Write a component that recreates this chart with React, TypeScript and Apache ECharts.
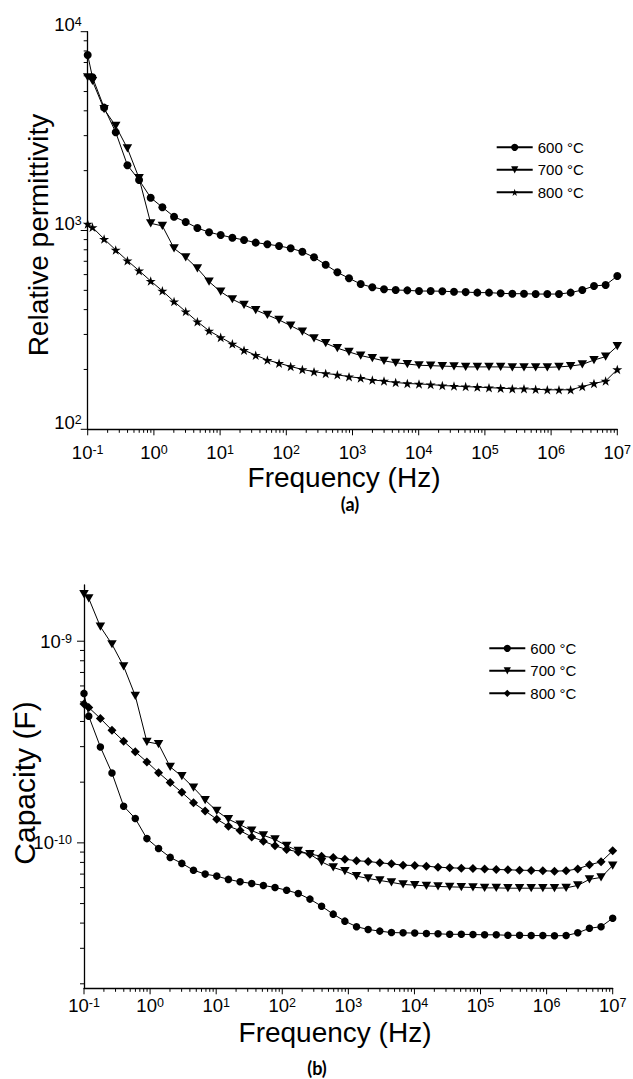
import React, { useEffect, useRef } from 'react';
import * as echarts from 'echarts';

// Frequencies (Hz), shared by both panels
const freq = [0.1, 0.118, 0.177, 0.265, 0.398, 0.597, 0.895, 1.343, 2.016, 3.024, 4.537, 6.81, 10.21, 15.32, 22.99, 34.5, 51.8, 77.7, 116.5, 174.8, 262.3, 393.6, 590.5, 886, 1329, 1994, 2992, 4489, 6735, 10106, 15163, 22751, 34136, 51217, 76848, 115305, 173000, 259600, 389500, 584400, 876800, 1315000, 1973000, 2961000, 4443000, 6665000, 10000000];

const seriesNames = ['600 °C', '700 °C', '800 °C'];

// (a) Relative permittivity
const perm600 = [7640, 5900, 4150, 3120, 2130, 1795, 1462, 1309, 1173, 1104, 1030, 980, 949, 920, 896, 869, 853, 836, 814, 782, 733, 673, 616, 575, 538, 518, 506, 502, 500, 496, 496, 495, 492, 490, 487, 487, 483, 481, 481, 479, 479, 479, 487, 502, 526, 532, 590];
const perm700 = [5900, 5650, 4074, 3357, 2588, 1833, 1087, 1054, 813, 733, 645, 553, 492, 451, 422, 398, 376, 355, 332, 310, 287, 271, 256, 245, 235, 228, 221, 216, 213, 210, 209, 208, 207, 206, 206, 206, 206, 205, 205, 205, 205, 206, 208, 212, 223, 232, 262];
const perm800 = [1079, 1038, 906, 798, 705, 628, 557, 497, 439, 391, 348, 313, 290, 269, 250, 236, 223, 215, 207, 200, 195, 191, 188, 184, 181, 177, 175, 172, 170, 169, 168, 166, 165, 164, 163, 162, 161, 160, 160, 159, 158, 158, 158, 164, 170, 175, 200];

// (b) Capacity (F)
const cap600 = [5.51e-10, 4.25e-10, 2.99e-10, 2.22e-10, 1.52e-10, 1.32e-10, 1.05e-10, 9.38e-11, 8.47e-11, 7.91e-11, 7.32e-11, 7.0e-11, 6.84e-11, 6.59e-11, 6.41e-11, 6.29e-11, 6.15e-11, 6.01e-11, 5.82e-11, 5.61e-11, 5.26e-11, 4.85e-11, 4.43e-11, 4.09e-11, 3.84e-11, 3.72e-11, 3.65e-11, 3.59e-11, 3.58e-11, 3.57e-11, 3.55e-11, 3.54e-11, 3.52e-11, 3.52e-11, 3.51e-11, 3.5e-11, 3.5e-11, 3.48e-11, 3.48e-11, 3.47e-11, 3.47e-11, 3.46e-11, 3.47e-11, 3.58e-11, 3.77e-11, 3.84e-11, 4.23e-11];
const cap700 = [1.71e-9, 1.63e-9, 1.18e-9, 9.66e-10, 7.51e-10, 5.36e-10, 3.17e-10, 3.09e-10, 2.38e-10, 2.14e-10, 1.88e-10, 1.63e-10, 1.44e-10, 1.31e-10, 1.23e-10, 1.15e-10, 1.09e-10, 1.04e-10, 9.67e-11, 9.13e-11, 8.79e-11, 8.05e-11, 7.55e-11, 7.24e-11, 6.84e-11, 6.66e-11, 6.51e-11, 6.37e-11, 6.22e-11, 6.17e-11, 6.12e-11, 6.08e-11, 6.05e-11, 6.03e-11, 6.01e-11, 5.98e-11, 5.98e-11, 5.96e-11, 5.96e-11, 5.96e-11, 5.96e-11, 5.96e-11, 5.98e-11, 6.15e-11, 6.59e-11, 6.74e-11, 7.72e-11];
const cap800 = [4.88e-10, 4.69e-10, 4.14e-10, 3.62e-10, 3.19e-10, 2.83e-10, 2.52e-10, 2.23e-10, 1.99e-10, 1.78e-10, 1.58e-10, 1.44e-10, 1.31e-10, 1.21e-10, 1.15e-10, 1.07e-10, 1.02e-10, 9.67e-11, 9.27e-11, 9.02e-11, 8.79e-11, 8.59e-11, 8.46e-11, 8.3e-11, 8.15e-11, 8.09e-11, 7.96e-11, 7.87e-11, 7.75e-11, 7.72e-11, 7.66e-11, 7.58e-11, 7.52e-11, 7.49e-11, 7.47e-11, 7.41e-11, 7.38e-11, 7.35e-11, 7.32e-11, 7.3e-11, 7.27e-11, 7.24e-11, 7.27e-11, 7.43e-11, 7.78e-11, 8.05e-11, 9.13e-11];

const FONT = '"Liberation Sans", Arial, sans-serif';
const STAR = 'path://M0,-10L2.245,-3.09L9.511,-3.09L3.633,1.18L5.878,8.09L0,3.82L-5.878,8.09L-3.633,1.18L-9.511,-3.09L-2.245,-3.09Z';
const TRI_DOWN = 'path://M0,0L10,0L5,8.66Z';

function logTicks(min: number, max: number) {
  const out: { v: number; major: number }[] = [];
  const e0 = Math.floor(Math.log10(min)) - 1;
  const e1 = Math.ceil(Math.log10(max)) + 1;
  for (let e = e0; e <= e1; e++) {
    for (let m = 1; m <= 9; m++) {
      const v = m * Math.pow(10, e);
      if (v >= min * (1 - 1e-9) && v <= max * (1 + 1e-9)) out.push({ v, major: m === 1 ? 1 : 0 });
    }
  }
  return out;
}

function labelFmt(v: number) {
  const e = Math.log10(v);
  const r = Math.round(e);
  if (Math.abs(e - r) > 1e-6) return '';
  return `{b|10}{s|${r}}`;
}

const rich = {
  b: { fontSize: 18.5, fontFamily: FONT, color: '#000', lineHeight: 18 },
  s: { fontSize: 12.5, fontFamily: FONT, color: '#000', lineHeight: 12, verticalAlign: 'top' },
};

function makeOption(c: any) {
  const xt = logTicks(c.xMin, c.xMax);
  const yt = logTicks(c.yMin, c.yMax);
  const lines = c.series.map((s: any) => ({
    type: 'line',
    name: s.name,
    data: freq.map((f, i) => [f, s.values[i]]),
    symbol: s.symbol,
    symbolSize: s.size,
    symbolKeepAspect: true,
    showSymbol: true,
    lineStyle: { color: '#000', width: 1 },
    itemStyle: { color: '#000' },
    z: 3,
  }));
  return {
    animation: false,
    grid: { left: c.grid[0], top: c.grid[1], width: c.grid[2], height: c.grid[3], containLabel: false, outerBoundsMode: 'none' },
    xAxis: {
      type: 'log', logBase: 10, min: c.xMin, max: c.xMax, splitNumber: 8,
      axisLine: { show: true, onZero: false, lineStyle: { color: '#000', width: 1.3 } },
      axisTick: { show: false }, splitLine: { show: false },
      axisLabel: { formatter: labelFmt, rich, margin: c.xMargin, color: '#000' },
    },
    yAxis: {
      type: 'log', logBase: 10, min: c.yMin, max: c.yMax, splitNumber: 2,
      axisLine: { show: true, onZero: false, lineStyle: { color: '#000', width: 1.3 } },
      axisTick: { show: false }, splitLine: { show: false },
      axisLabel: { formatter: labelFmt, rich, margin: c.yMargin, color: '#000', padding: c.yPad },
    },
    legend: {
      orient: 'vertical', left: c.legend[0], top: c.legend[1], itemWidth: 36, itemHeight: 9, itemGap: 7.5,
      data: seriesNames, selectedMode: false,
      textStyle: { fontSize: 15, fontFamily: FONT, color: '#000' },
    },
    series: [
      ...lines,
      {
        type: 'custom', silent: true, clip: false, z: 5,
        data: xt.map((t) => [t.v, c.yMin, t.major]),
        encode: { x: 0, y: 1 },
        renderItem: (_p: any, api: any) => {
          const p = api.coord([api.value(0), api.value(1)]);
          const len = api.value(2) ? 6 : 3.5;
          return { type: 'line', shape: { x1: p[0], y1: p[1], x2: p[0], y2: p[1] + len }, style: { stroke: '#000', lineWidth: 1 } };
        },
      },
      {
        type: 'custom', silent: true, clip: false, z: 5,
        data: yt.map((t) => [c.xMin, t.v, t.major]),
        encode: { x: 0, y: 1 },
        renderItem: (_p: any, api: any) => {
          const p = api.coord([api.value(0), api.value(1)]);
          const len = api.value(2) ? 7 : 4;
          return { type: 'line', shape: { x1: p[0] - len, y1: p[1], x2: p[0], y2: p[1] }, style: { stroke: '#000', lineWidth: 1 } };
        },
      },
    ],
    graphic: c.texts.map((t: any) => ({
      type: 'text', x: t.x, y: t.y, rotation: t.rot || 0, silent: true,
      style: { text: t.text, fontSize: t.size, fontFamily: t.family || FONT, fontWeight: t.weight || 'normal', fill: '#000', align: 'center', verticalAlign: 'middle' },
    })),
  };
}

const optA = makeOption({
  grid: [87.7, 31.7, 529.6, 397.6],
  xMin: 0.1, xMax: 1e7, yMin: 100, yMax: 10000,
  xMargin: 14, yMargin: 6, yPad: [0, 0, 14, 0],
  legend: [490.7, 134.8],
  series: [
    { name: seriesNames[0], values: perm600, symbol: 'circle', size: 8 },
    { name: seriesNames[1], values: perm700, symbol: TRI_DOWN, size: 9.5 },
    { name: seriesNames[2], values: perm800, symbol: STAR, size: 10 },
  ],
  texts: [
    { text: 'Relative permittivity', x: 38, y: 235, rot: Math.PI / 2, size: 28 },
    { text: 'Frequency (Hz)', x: 344, y: 477.5, size: 28 },
    { text: '(a)', x: 350, y: 504, size: 18, weight: 'bold', family: 'Lato, "Open Sans", sans-serif' },
  ],
});

const optB = makeOption({
  grid: [84, 45, 528.7, 403.3],
  xMin: 0.1, xMax: 1e7, yMin: 1.9e-11, yMax: 1.9e-9,
  xMargin: 8, yMargin: 12, yPad: 0,
  legend: [483.3, 95.8],
  series: [
    { name: seriesNames[0], values: cap600, symbol: 'circle', size: 7.5 },
    { name: seriesNames[1], values: cap700, symbol: TRI_DOWN, size: 9.5 },
    { name: seriesNames[2], values: cap800, symbol: 'diamond', size: 9 },
  ],
  texts: [
    { text: 'Capacity (F)', x: 24, y: 243, rot: Math.PI / 2, size: 30 },
    { text: 'Frequency (Hz)', x: 335, y: 492, size: 28 },
    { text: '(b)', x: 317, y: 528, size: 18, weight: 'bold', family: 'Lato, "Open Sans", sans-serif' },
  ],
});

function Chart({ option, top, height }: { option: any; top: number; height: number }) {
  const ref = useRef<HTMLDivElement>(null);
  useEffect(() => {
    if (!ref.current) return;
    const chart = echarts.init(ref.current, undefined, { renderer: 'svg' });
    chart.setOption(option);
    return () => chart.dispose();
  }, [option]);
  return <div ref={ref} style={{ position: 'absolute', left: 0, top, width: 633, height }} />;
}

export default function App() {
  return (
    <div style={{ position: 'absolute', left: 0, top: 0, width: 633, height: 1079, background: '#fff' }}>
      <Chart option={optA} top={0} height={540} />
      <Chart option={optB} top={540} height={539} />
    </div>
  );
}
